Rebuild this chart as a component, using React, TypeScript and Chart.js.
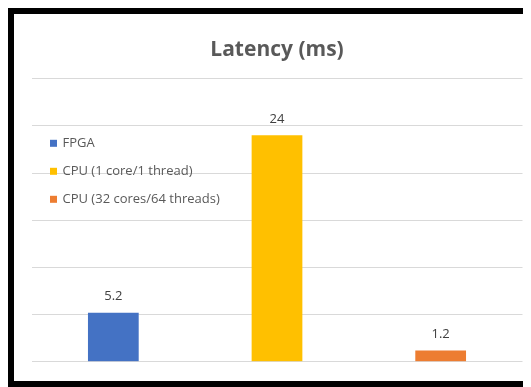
import React, { useEffect, useRef } from "react";
import { Chart, registerables } from "chart.js";

Chart.register(...registerables);

const categories = ["FPGA", "CPU (1 core/1 thread)", "CPU (32 cores/64 threads)"];
const latencyValues = [5.2, 24, 1.2];
const barColors = ["#4472C4", "#FFC000", "#ED7D31"];
const titleText = "Latency (ms)";
const yMin = 0;
const yMax = 30;
const yStep = 5;

const FONT = "'Open Sans', Lato, sans-serif";

const insideLegend = {
  id: "insideLegend",
  afterDraw(chart: any) {
    const { ctx, chartArea } = chart;
    const labels = chart.data.labels as string[];
    const colors = chart.data.datasets[0].backgroundColor as string[];
    ctx.save();
    ctx.font = `13px ${FONT}`;
    ctx.textBaseline = "middle";
    ctx.textAlign = "left";
    const x0 = chartArea.left + 18.5;
    const y0 = chartArea.top + 64.6;
    labels.forEach((lab, i) => {
      const y = y0 + i * 28;
      ctx.fillStyle = colors[i];
      ctx.fillRect(x0, y - 3.5, 7, 7);
      ctx.fillStyle = "#595959";
      ctx.fillText(lab, x0 + 12.5, y);
    });
    ctx.restore();
  },
};

const valueLabels = {
  id: "valueLabels",
  afterDatasetsDraw(chart: any) {
    const { ctx } = chart;
    const meta = chart.getDatasetMeta(0);
    const data = chart.data.datasets[0].data as number[];
    ctx.save();
    ctx.font = `13px ${FONT}`;
    ctx.fillStyle = "#404040";
    ctx.textAlign = "center";
    ctx.textBaseline = "middle";
    meta.data.forEach((el: any, i: number) => {
      ctx.fillText(String(data[i]), el.x, el.y - 16);
    });
    ctx.restore();
  },
};

export default function App() {
  const ref = useRef<HTMLCanvasElement | null>(null);
  useEffect(() => {
    if (!ref.current) return;
    const chart = new Chart(ref.current, {
      type: "bar",
      data: {
        labels: categories,
        datasets: [
          {
            label: titleText,
            data: latencyValues,
            backgroundColor: barColors,
            barPercentage: 0.31,
            categoryPercentage: 1,
          },
        ],
      },
      options: {
        animation: false,
        responsive: false,
        maintainAspectRatio: false,
        layout: { padding: { left: 17.5, right: 8.5, bottom: 19.3, top: 0 } },
        plugins: {
          legend: { display: false },
          tooltip: { enabled: false },
          title: {
            display: true,
            text: titleText,
            color: "#595959",
            font: { family: FONT, size: 21, weight: "bold" },
            lineHeight: 1.2,
            padding: { top: 23.5, bottom: 16 },
          },
        },
        scales: {
          x: {
            grid: { display: false, drawTicks: false },
            border: { display: false },
            ticks: { display: false },
          },
          y: {
            min: yMin,
            max: yMax,
            ticks: { display: false, stepSize: yStep },
            grid: { color: "#d9d9d9", lineWidth: 1, drawTicks: false },
            border: { display: false },
          },
        },
      },
      plugins: [valueLabels, insideLegend],
    });
    return () => chart.destroy();
  }, []);
  return (
    <div style={{ width: 523, overflow: "hidden" }}>
      <div
        style={{
          borderTop: "6px solid #000",
          borderLeft: "6px solid #000",
          borderBottom: "6px solid #000",
          width: 517,
          height: 367,
          background: "#fff",
        }}
      >
        <canvas ref={ref} width={517} height={367} style={{ display: "block" }} />
      </div>
    </div>
  );
}
